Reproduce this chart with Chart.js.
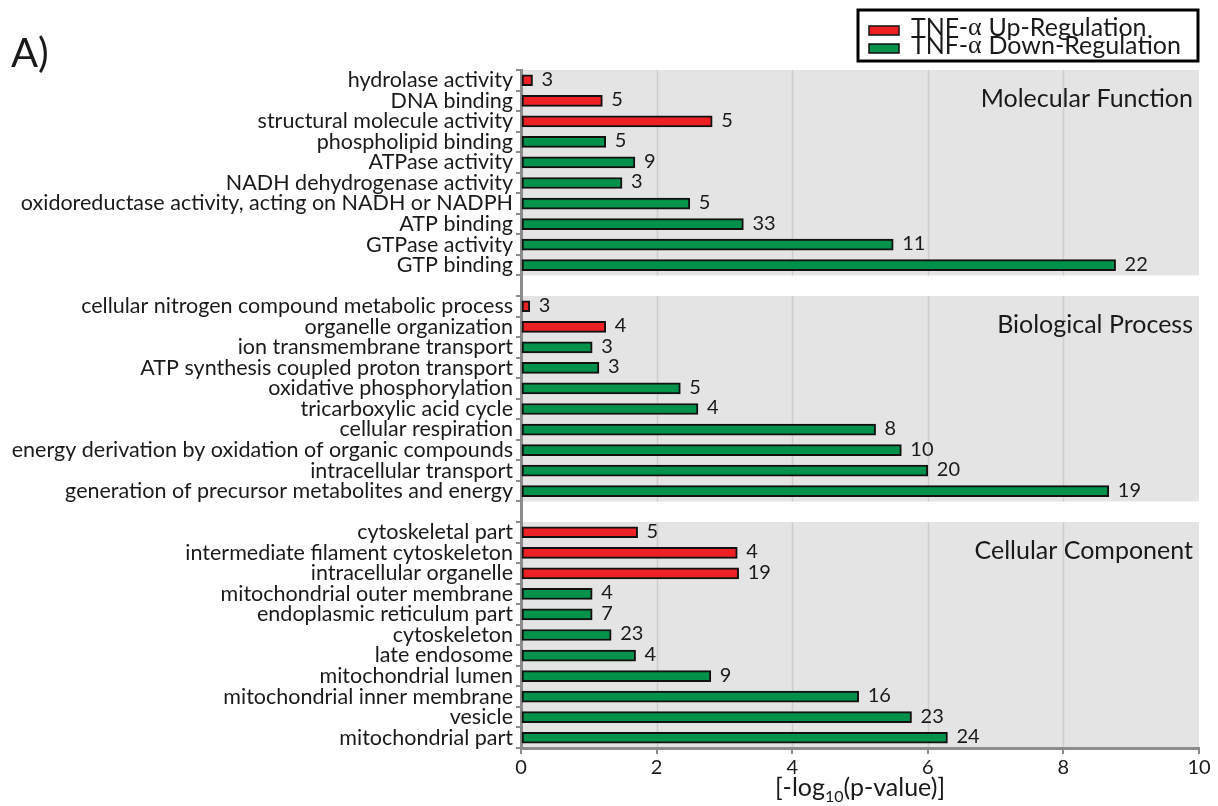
<!DOCTYPE html>
<html>
<head>
<meta charset="utf-8">
<script src="https://cdn.jsdelivr.net/npm/chart.js@4/dist/chart.umd.min.js"></script>
<style>
  html, body { margin: 0; padding: 0; background: #fff; }
  #goChart { display: block; }
</style>
</head>
<body>
<canvas id="goChart" width="1218" height="806"></canvas>
<script>
// GO enrichment, -log10(p) per term, gene counts and direction of regulation
const mfTerms = [
  "hydrolase activity", "DNA binding", "structural molecule activity",
  "phospholipid binding", "ATPase activity", "NADH dehydrogenase activity",
  "oxidoreductase activity, acting on NADH or NADPH", "ATP binding",
  "GTPase activity", "GTP binding"
];
const mfScores = [0.17, 1.20, 2.82, 1.25, 1.68, 1.49, 2.49, 3.28, 5.49, 8.77];
const mfCounts = [3, 5, 5, 5, 9, 3, 5, 33, 11, 22];
const mfRegulation = ["up", "up", "up", "down", "down", "down", "down", "down", "down", "down"];

const bpTerms = [
  "cellular nitrogen compound metabolic process", "organelle organization",
  "ion transmembrane transport", "ATP synthesis coupled proton transport",
  "oxidative phosphorylation", "tricarboxylic acid cycle", "cellular respiration",
  "energy derivation by oxidation of organic compounds", "intracellular transport",
  "generation of precursor metabolites and energy"
];
const bpScores = [0.13, 1.25, 1.05, 1.15, 2.35, 2.61, 5.23, 5.61, 6.00, 8.67];
const bpCounts = [3, 4, 3, 3, 5, 4, 8, 10, 20, 19];
const bpRegulation = ["up", "up", "down", "down", "down", "down", "down", "down", "down", "down"];

const ccTerms = [
  "cytoskeletal part", "intermediate filament cytoskeleton", "intracellular organelle",
  "mitochondrial outer membrane", "endoplasmic reticulum part", "cytoskeleton",
  "late endosome", "mitochondrial lumen", "mitochondrial inner membrane",
  "vesicle", "mitochondrial part"
];
const ccScores = [1.72, 3.19, 3.21, 1.05, 1.05, 1.33, 1.69, 2.80, 4.98, 5.76, 6.29];
const ccCounts = [5, 4, 19, 4, 7, 23, 4, 9, 16, 23, 24];
const ccRegulation = ["up", "up", "up", "down", "down", "down", "down", "down", "down", "down", "down"];

const groupNames = ["Molecular Function", "Biological Process", "Cellular Component"];
const xTicks = [0, 2, 4, 6, 8, 10];

const RED = "#ed2024";
const GREEN = "#00914a";
const FONT = "Lato, 'Open Sans', sans-serif";

// flatten the three groups into one category axis, one blank row between groups
const groups = [
  { terms: mfTerms, scores: mfScores, counts: mfCounts, regulation: mfRegulation },
  { terms: bpTerms, scores: bpScores, counts: bpCounts, regulation: bpRegulation },
  { terms: ccTerms, scores: ccScores, counts: ccCounts, regulation: ccRegulation }
];
const labels = [];
const upData = [];
const downData = [];
const countData = [];
const panels = [];
groups.forEach((g, gi) => {
  if (gi > 0) {
    labels.push("");
    upData.push(null);
    downData.push(null);
    countData.push(null);
  }
  const start = labels.length;
  g.terms.forEach((t, i) => {
    labels.push(t);
    upData.push(g.regulation[i] === "up" ? g.scores[i] : null);
    downData.push(g.regulation[i] === "down" ? g.scores[i] : null);
    countData.push(g.counts[i]);
  });
  panels.push({ name: groupNames[gi], start: start, end: labels.length - 1 });
});

// grey group panels and their vertical gridlines
const panelPlugin = {
  id: "panels",
  beforeDraw(chart) {
    const ctx = chart.ctx;
    const xs = chart.scales.x;
    const ys = chart.scales.y;
    const half = (ys.getPixelForValue(1) - ys.getPixelForValue(0)) / 2;
    const x0 = xs.getPixelForValue(xTicks[0]);
    const x1 = xs.getPixelForValue(xTicks[xTicks.length - 1]);
    ctx.save();
    panels.forEach(p => {
      const top = ys.getPixelForValue(p.start) - half;
      const bottom = ys.getPixelForValue(p.end) + half;
      ctx.fillStyle = "#e4e4e4";
      ctx.fillRect(x0, top, x1 - x0, bottom - top);
      ctx.strokeStyle = "#cdcdcd";
      ctx.lineWidth = 1.5;
      xTicks.slice(1, -1).forEach(v => {
        const x = Math.round(xs.getPixelForValue(v)) + 0.5;
        ctx.beginPath();
        ctx.moveTo(x, top);
        ctx.lineTo(x, bottom);
        ctx.stroke();
      });
      ctx.fillStyle = "#1a1a1a";
      ctx.font = "25px " + FONT;
      ctx.textAlign = "right";
      ctx.textBaseline = "middle";
      ctx.fillText(p.name, x1 - 6, top + 29);
    });
    ctx.restore();
  }
};

// gene counts beside each bar, legend box, axis title and panel tag
const annotatePlugin = {
  id: "annotate",
  afterDraw(chart) {
    const ctx = chart.ctx;
    const area = chart.chartArea;
    ctx.save();

    ctx.fillStyle = "#1a1a1a";
    ctx.font = "20px " + FONT;
    ctx.textAlign = "left";
    ctx.textBaseline = "middle";
    countData.forEach((c, i) => {
      if (c === null) return;
      const ds = upData[i] !== null ? 0 : 1;
      const bar = chart.getDatasetMeta(ds).data[i];
      ctx.fillText(String(c), bar.x + 9, bar.y - 1);
    });

    // legend
    const bx = 858, by = 10, bw = 340, bh = 51;
    ctx.lineWidth = 3;
    ctx.strokeStyle = "#000";
    ctx.strokeRect(bx, by, bw, bh);
    const entries = [
      { color: RED, text: "Up-Regulation" },
      { color: GREEN, text: "Down-Regulation" }
    ];
    entries.forEach((e, i) => {
      const cy = 30 + i * 18;
      ctx.fillStyle = e.color;
      ctx.fillRect(bx + 11, cy - 4, 30, 9);
      ctx.lineWidth = 1.5;
      ctx.strokeStyle = "#111";
      ctx.strokeRect(bx + 11, cy - 4, 30, 9);
      ctx.fillStyle = "#1a1a1a";
      ctx.textBaseline = "middle";
      let tx = bx + 53;
      ctx.font = "25px " + FONT;
      ctx.fillText("TNF-", tx, cy - 2);
      tx += ctx.measureText("TNF-").width;
      ctx.font = "26px 'Liberation Serif', serif";
      ctx.fillText("\u03b1", tx, cy - 2);
      tx += ctx.measureText("\u03b1").width + 7;
      ctx.font = "25px " + FONT;
      ctx.fillText(e.text, tx, cy - 2);
    });

    // x axis title with subscript
    const big = "25px " + FONT;
    const small = "16px " + FONT;
    ctx.font = big;
    const w1 = ctx.measureText("[-log").width;
    const w3 = ctx.measureText("(p-value)]").width;
    ctx.font = small;
    const w2 = ctx.measureText("10").width;
    const cx = (area.left + area.right) / 2;
    let tx = cx - (w1 + w2 + w3) / 2;
    const ty = 788;
    ctx.textBaseline = "middle";
    ctx.fillStyle = "#1a1a1a";
    ctx.font = big;
    ctx.fillText("[-log", tx, ty);
    tx += w1;
    ctx.font = small;
    ctx.fillText("10", tx, ty + 9);
    tx += w2;
    ctx.font = big;
    ctx.fillText("(p-value)]", tx, ty);

    ctx.font = "40px " + FONT;
    ctx.textBaseline = "alphabetic";
    ctx.fillText("A)", 11, 67);
    ctx.restore();
  }
};

const barStyle = {
  borderColor: "#111",
  borderWidth: 2,
  borderSkipped: false,
  barThickness: 11,
  grouped: false
};

new Chart(document.getElementById("goChart").getContext("2d"), {
  type: "bar",
  data: {
    labels: labels,
    datasets: [
      Object.assign({ label: "TNF-\u03b1 Up-Regulation", data: upData, backgroundColor: RED }, barStyle),
      Object.assign({ label: "TNF-\u03b1 Down-Regulation", data: downData, backgroundColor: GREEN }, barStyle)
    ]
  },
  options: {
    indexAxis: "y",
    responsive: false,
    animation: false,
    layout: { padding: { top: 70, right: 19, left: 0, bottom: 0 } },
    plugins: {
      legend: { display: false },
      tooltip: { enabled: false }
    },
    scales: {
      y: {
        type: "category",
        offset: true,
        grid: {
          offset: true,
          drawOnChartArea: false,
          drawTicks: true,
          tickLength: 5,
          color: "#8c8c8c",
          lineWidth: 2
        },
        border: { color: "#8c8c8c", width: 3 },
        ticks: {
          autoSkip: false,
          padding: 3,
          color: "#1a1a1a",
          font: { family: FONT, size: 21.5 }
        },
        afterFit(scale) { scale.width = 521; }
      },
      x: {
        min: 0,
        max: 10,
        grid: {
          drawOnChartArea: false,
          drawTicks: true,
          tickLength: 6,
          color: "#8c8c8c",
          lineWidth: 2
        },
        border: { color: "#8c8c8c", width: 3 },
        ticks: {
          stepSize: 2,
          padding: 2,
          color: "#1a1a1a",
          font: { family: FONT, size: 20 }
        },
        afterFit(scale) { scale.height = 58; }
      }
    }
  },
  plugins: [panelPlugin, annotatePlugin]
});
</script>
</body>
</html>
